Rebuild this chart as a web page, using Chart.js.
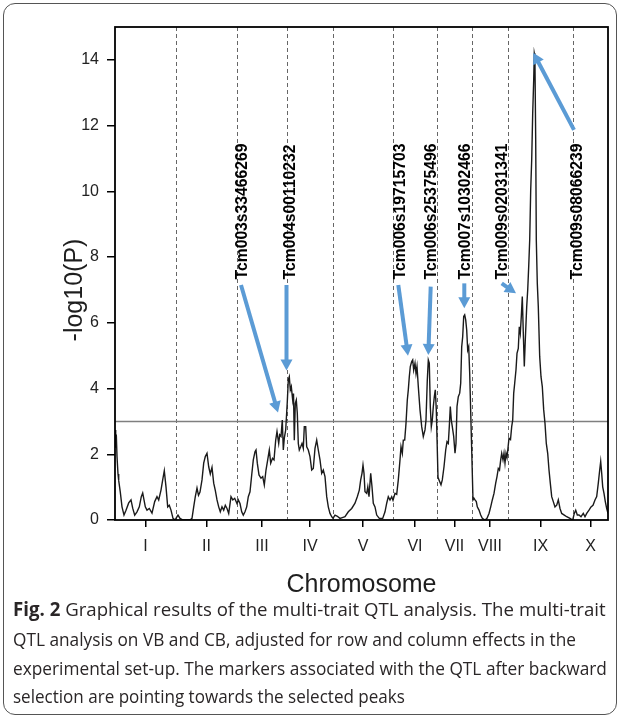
<!DOCTYPE html>
<html><head><meta charset="utf-8">
<script src="https://cdn.jsdelivr.net/npm/chart.js@4.4.1/dist/chart.umd.min.js"></script>
<style>
html,body{margin:0;padding:0;background:#fff;width:621px;height:718px;overflow:hidden;}
#c{position:absolute;left:0;top:0;}
#frame{position:absolute;left:3px;top:3px;width:614px;height:712px;border:1.5px solid #555;border-radius:12px;box-sizing:border-box;pointer-events:none;}
.cap{position:absolute;left:13px;white-space:pre;display:inline-block;font-family:"Open Sans",sans-serif;font-size:19px;line-height:19px;color:#2a2627;transform-origin:0 50%;}
.cap b{font-weight:700;}
</style></head><body>
<canvas id="c" width="621" height="600"></canvas>
<div id="frame"></div>
<div class="cap" data-w="593" style="top:600px"><b>Fig. 2</b> Graphical results of the multi-trait QTL analysis. The multi-trait</div>
<div class="cap" data-w="563" style="top:630px">QTL analysis on VB and CB, adjusted for row and column effects in the</div>
<div class="cap" data-w="594" style="top:659px">experimental set-up. The markers associated with the QTL after backward</div>
<div class="cap" data-w="392" style="top:687px">selection are pointing towards the selected peaks</div>
<script>
const chromNames = ['I','II','III','IV','V','VI','VII','VIII','IX','X'];
const chromLengths = [61,61,50,46,60,44,35,36,65,35];
const yTicks = [0,2,4,6,8,10,12,14];
const threshold = 3;

// cumulative genome position
const qtlPos = [
 0,0.7,1.3,2,3,3.7,5.3,7,9,11,13.7,16,17.7,19.7,22,24.3,26.3,27.7,29,30.3,32,34.3,37,39.7,42,43.7,46,47.7,49.3,51,52.7,54.3,56,58,60.3,
 61,63,65,68,75,77,78.7,80.3,82,83.5,85,87,88.7,90.3,92,93.7,95.3,97,98.7,100.3,102,103.7,105.3,107,108.7,110.3,112,113.7,116,117.8,119.7,122,
 123.3,125,126.7,128.3,130,131.7,133.3,135,136.7,138.3,140,141,142.3,144,146,147.7,149.3,151,152.7,154.3,155.7,157.5,159,160.7,162,163.7,164.7,166,167.3,168.3,169.3,170.7,
 172.3,173.3,174.3,175.3,176.3,177.7,178.5,179.3,180.3,181.3,182.3,183.3,184.3,185.7,187,188.3,189.3,190.7,191.7,193.3,195,196.7,198.3,200,201.7,203.3,205,206.7,208.3,210,211.7,213.3,215,216.7,218,
 220,222,225,228,230,233.3,236.7,240,242.3,244.3,245.7,247,248,249,250,251.7,252.8,254,255.7,257,258.3,260,261.7,264.3,267.7,270,271.7,273.3,275,276.7,278,
 280,281.7,283.3,285,286,287.3,288.3,289.7,291,292.3,293.3,294.3,295.3,296.7,297.7,298.7,300,301,302,303.3,305,306.7,308.3,310,311,312.3,313.3,314.3,315.3,316.3,317.3,318.3,319.3,320.3,321.3,
 323,324,326,327.3,329,330.7,332,333.3,334.3,335.3,336.3,337.3,338.7,340,341,342,343.3,344.7,345.7,346.7,347.7,348.7,349.7,350.7,351.7,352.7,353.7,354.7,
 358,359,360,361.3,362.3,364,365.7,367.3,370,372,374,375.7,377.3,379,380.7,382,383.3,384.5,385.7,386.7,388,389,390,391,392,
 394,395.5,396.7,397.7,398.7,399.7,401,402,403.3,404.3,405.3,406.3,407.3,408.3,409.3,410.3,411.7,412.7,413.7,414.7,415.7,416.7,417.7,418.7,419.3,419.9,420.7,421.3,422.3,423.3,424.7,426,427.3,428.7,430,431.3,432.7,434,435.3,436.7,438.3,440,441.7,443.3,445,446.7,449.3,451.7,455,457.7,
 459.3,460.7,462.3,464,466,468.3,470,471.7,474,476,478,480,481.7,483.3,484.7,485.7,486.7,487.7,489,490.3,491.7,493
];
const qtlLod = [
 2.74,2.2,2.6,1.93,1.4,1.2,0.85,0.4,0.15,0.3,0.52,0.61,0.36,0.15,0.25,0.4,0.71,0.82,0.61,0.4,0.3,0.35,0.21,0.56,0.71,0.61,0.91,1.22,1.5,1.01,0.4,0.45,0.3,0.05,0,
 0.05,0.15,0.05,0,0,0.05,0.4,0.71,0.97,0.75,0.85,1.22,1.73,1.93,2.03,1.62,1.4,1.6,1.12,0.9,0.61,0.4,0.25,0.4,0.3,0.45,0.35,0.2,0.71,0.61,0.66,0.5,
 0.61,0.5,0.25,0.15,0.25,0.4,0.71,0.86,1.37,1.83,2.08,2.13,1.73,1.37,1.27,1.32,1.07,1.52,1.83,2.13,1.73,1.88,1.83,2.43,2.69,2.33,2.59,2.54,3.04,2.13,2.49,2.74,
 3.6,4.26,4.36,3.96,4.06,3.65,3.85,2.43,3.55,3.65,3.25,2.33,2.13,2.23,2.33,2.18,2.84,2.84,2.23,2.13,1.93,1.52,1.57,2.18,2.43,2.13,1.83,1.42,1.52,1.32,0.71,0.4,0.2,0.1,0.05,
 0.15,0.12,0.05,0.08,0.1,0.25,0.35,0.51,0.71,0.91,1.22,1.42,1.67,1.42,0.86,0.81,1.01,0.71,1.42,1.01,0.51,0.4,0.15,0.05,0.05,0.25,0.51,0.71,0.61,0.71,0.6,
 0.81,0.78,1.22,1.83,2.23,2.03,2.43,2.43,2.94,3.65,3.96,4.36,4.67,4.82,4.87,4.56,4.77,4.46,4.67,4.06,3.35,2.84,2.54,2.74,3.04,4.26,4.87,4.77,3.45,2.84,3.04,3.45,3.75,3.96,3.35,
 1.3,1.22,1.07,1.22,1.62,2.13,2.38,2.33,2.84,3.45,3.04,2.84,2.54,2.03,2.33,3.45,3.75,3.86,4.16,5.27,5.58,6.19,6.24,6.09,5.78,5.17,5.27,4.46,
 0.61,0.66,0.61,0.56,0.4,0.3,0.15,0.05,0,0.05,0.2,0.4,0.61,0.81,1.12,1.32,1.57,1.52,1.83,2.03,1.83,2.03,1.73,2.03,1.9,
 2.49,2.45,2.84,3.04,3.86,4.16,4.57,5.07,5.22,5.88,5.68,6.19,6.8,5.68,4.67,5.48,6.49,7.0,7.71,8.52,10.04,10.96,12.38,13.39,14.2,14.1,11.57,8.52,7.2,6.49,4.97,4.36,4.06,3.35,2.94,2.33,2.03,1.52,1.12,0.71,0.56,0.4,0.45,0.61,0.35,0.2,0.15,0.1,0.05,0,
 0.2,0.3,0.15,0.15,0.1,0.2,0.1,0.2,0.3,0.4,0.45,0.61,0.71,1.12,1.52,1.78,1.42,1.01,0.81,0.56,0.35,0.2
];

const markerNames = ['Tcm003s33466269','Tcm004s00110232','Tcm006s19715703','Tcm006s25375496','Tcm007s10302466','Tcm009s02031341','Tcm009s08066239'];
const markerLabelPos = [128,175.8,285.3,317,350.5,388,463];
const markerLabelLod = 7.32;
const arrowFromPos = [126,171.5,283.3,315.7,349.3,386.7,459];
const arrowFromLod = [7.15,7.15,7.15,7.1,7.2,7.2,11.87];
const arrowToPos   = [163,171.5,293,313.3,349.3,401,418.3];
const arrowToLod   = [3.27,4.55,5.0,5.02,6.44,6.9,14.22];

const FF = '"Liberation Sans", Arial, Helvetica, sans-serif';
const bounds = [0]; chromLengths.forEach(l => bounds.push(bounds[bounds.length-1] + l));
const centers = chromLengths.map((l,i) => bounds[i] + l/2);
const total = bounds[bounds.length-1];

const decor = {
  id: 'decor',
  beforeDatasetsDraw(chart) {
    const {ctx, chartArea: a, scales: {x, y}} = chart;
    ctx.save();
    ctx.strokeStyle = '#666'; ctx.lineWidth = 1; ctx.setLineDash([4,3]);
    bounds.slice(1, -1).forEach(b => {
      const px = Math.round(x.getPixelForValue(b)) + 0.5;
      ctx.beginPath(); ctx.moveTo(px, a.top); ctx.lineTo(px, a.bottom); ctx.stroke();
    });
    ctx.setLineDash([]);
    const ty = y.getPixelForValue(threshold);
    ctx.strokeStyle = '#7f7f7f'; ctx.lineWidth = 1.5;
    ctx.beginPath(); ctx.moveTo(a.left, ty); ctx.lineTo(a.right, ty); ctx.stroke();
    ctx.restore();
  },
  afterDatasetsDraw(chart) {
    const {ctx, chartArea: a, scales: {x, y}} = chart;
    ctx.save();
    ctx.strokeStyle = '#000'; ctx.lineWidth = 1.8;
    ctx.strokeRect(a.left, a.top, a.right - a.left, a.bottom - a.top);
    ctx.fillStyle = '#000';
    ctx.font = 'bold 15.7px ' + FF;
    ctx.textAlign = 'left'; ctx.textBaseline = 'middle';
    markerNames.forEach((n, i) => {
      const px = x.getPixelForValue(markerLabelPos[i]);
      const py = y.getPixelForValue(markerLabelLod);
      ctx.save(); ctx.translate(px, py); ctx.rotate(-Math.PI/2); ctx.fillText(n, 0, 0); ctx.restore();
    });
    ctx.strokeStyle = '#5b9bd5'; ctx.fillStyle = '#5b9bd5'; ctx.lineWidth = 4; ctx.lineCap = 'butt';
    const hl = 11, hw = 6;
    arrowFromPos.forEach((p, i) => {
      const x0 = x.getPixelForValue(p), y0 = y.getPixelForValue(arrowFromLod[i]);
      const x1 = x.getPixelForValue(arrowToPos[i]), y1 = y.getPixelForValue(arrowToLod[i]);
      const dx = x1 - x0, dy = y1 - y0, L = Math.hypot(dx, dy), ux = dx / L, uy = dy / L;
      const bx = x1 - ux * hl, by = y1 - uy * hl;
      ctx.beginPath(); ctx.moveTo(x0, y0); ctx.lineTo(bx + ux, by + uy); ctx.stroke();
      ctx.beginPath(); ctx.moveTo(x1, y1);
      ctx.lineTo(bx - uy * hw, by + ux * hw); ctx.lineTo(bx + uy * hw, by - ux * hw); ctx.closePath(); ctx.fill();
    });
    ctx.fillStyle = '#1e1e1e'; ctx.font = '25px ' + FF; ctx.textAlign = 'center'; ctx.textBaseline = 'middle';
    ctx.save(); ctx.translate(75, 290); ctx.rotate(-Math.PI/2); ctx.fillText('-log10(P)', 0, 0); ctx.restore();
    ctx.restore();
  }
};

new Chart(document.getElementById('c'), {
  type: 'line',
  data: {
    datasets: [{
      data: qtlPos.map((p, i) => ({x: p, y: qtlLod[i]})),
      borderColor: '#1a1a1a', borderWidth: 1.4, pointRadius: 0, tension: 0, fill: false
    }]
  },
  options: {
    responsive: false, animation: false, devicePixelRatio: 1,
    layout: {padding: {top: 27, right: 13, left: 0, bottom: 0}},
    plugins: {legend: {display: false}, tooltip: {enabled: false}},
    scales: {
      x: {
        type: 'linear', min: 0, max: total,
        afterBuildTicks: s => { s.ticks = centers.map(v => ({value: v})); },
        afterFit: s => { s.height = 80; },
        ticks: {callback: (v, i) => chromNames[i], font: {size: 16, family: FF}, color: '#222', padding: 10, maxRotation: 0, autoSkip: false},
        grid: {display: true, drawOnChartArea: false, drawTicks: true, tickLength: 7, color: '#000', lineWidth: 1.5},
        border: {display: false},
        title: {display: true, text: 'Chromosome', font: {size: 25, family: FF}, color: '#1e1e1e', padding: {top: 0, bottom: 0}}
      },
      y: {
        min: 0, max: 15,
        afterBuildTicks: s => { s.ticks = yTicks.map(v => ({value: v})); },
        afterFit: s => { s.width = 115; },
        ticks: {font: {size: 16, family: FF}, color: '#222', padding: 8, autoSkip: false},
        grid: {display: true, drawOnChartArea: false, drawTicks: true, tickLength: 8, color: '#000', lineWidth: 1.5},
        border: {display: false}
      }
    }
  },
  plugins: [decor]
});

function fitCaption() {
  document.querySelectorAll('.cap').forEach(el => {
    const w = el.offsetWidth;
    el.style.transform = 'scaleX(' + (+el.dataset.w / w) + ')';
  });
}
fitCaption();
if (document.fonts && document.fonts.ready) document.fonts.ready.then(fitCaption);
</script>
</body></html>
